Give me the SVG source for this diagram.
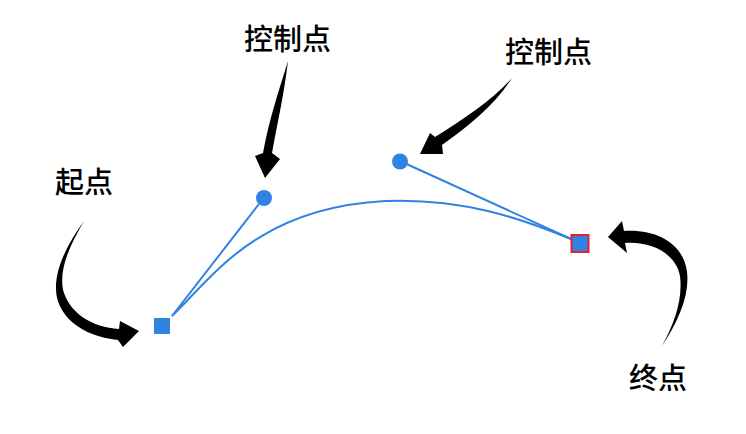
<svg xmlns="http://www.w3.org/2000/svg" width="746" height="434" viewBox="0 0 746 434">
<style>
.lbl{font-family:"Noto Sans CJK SC","Noto Sans",sans-serif;font-size:29px;font-weight:500;fill:#000}
.blue{fill:#3083e3}
.hline{stroke:#3083e3;stroke-width:2;fill:none}
.arrow{fill:#000}
</style>
<rect width="746" height="434" fill="#fff"/>
<g id="connectors">
<path class="hline" id="bezier" d="M172,316 C212,278 256,208 385,201 C462,198 520,218 571,239"/>
<line class="hline" x1="172" y1="316" x2="259" y2="204"/>
<line class="hline" x1="400" y1="161" x2="571" y2="239"/>
<path class="arrow" d="M84,221 C68,243 55,268 56,290 C57,315 80,336 118,340 L123,347 L139,331 L120,321 L119,329 C92,327 70,314 63,290 C59,268 70,245 84,221 Z"/>
<path class="arrow" d="M288,61 C284,95 277,125 272,153 L280,159 L265,178 L255,156 L263,153 C269,120 279,90 288,61 Z"/>
<path class="arrow" d="M512,78 C495,105 470,125 442,145 L443,154 L420,154 L430,133 L435,137 C465,118 492,100 512,78 Z"/>
<path class="arrow" d="M662,346 C678,322 690,295 687,272 C684,246 660,229 624,231 L622,221 L608,237 L627,253 L625,243 C652,241 676,254 680,276 C683,300 674,324 662,346 Z"/>
</g>
<g id="start"><rect class="blue" x="154" y="318" width="16" height="16"/><text class="lbl" x="55" y="193">起点</text></g>
<g id="cp1"><circle class="blue" cx="264" cy="198" r="8"/><text class="lbl" x="244" y="50">控制点</text></g>
<g id="cp2"><circle class="blue" cx="400" cy="161.5" r="8"/><text class="lbl" x="505" y="63">控制点</text></g>
<g id="end"><rect class="blue" x="571.5" y="235" width="17" height="17" stroke="#e8202a" stroke-width="2"/><text class="lbl" x="629" y="389">终点</text></g>
</svg>
